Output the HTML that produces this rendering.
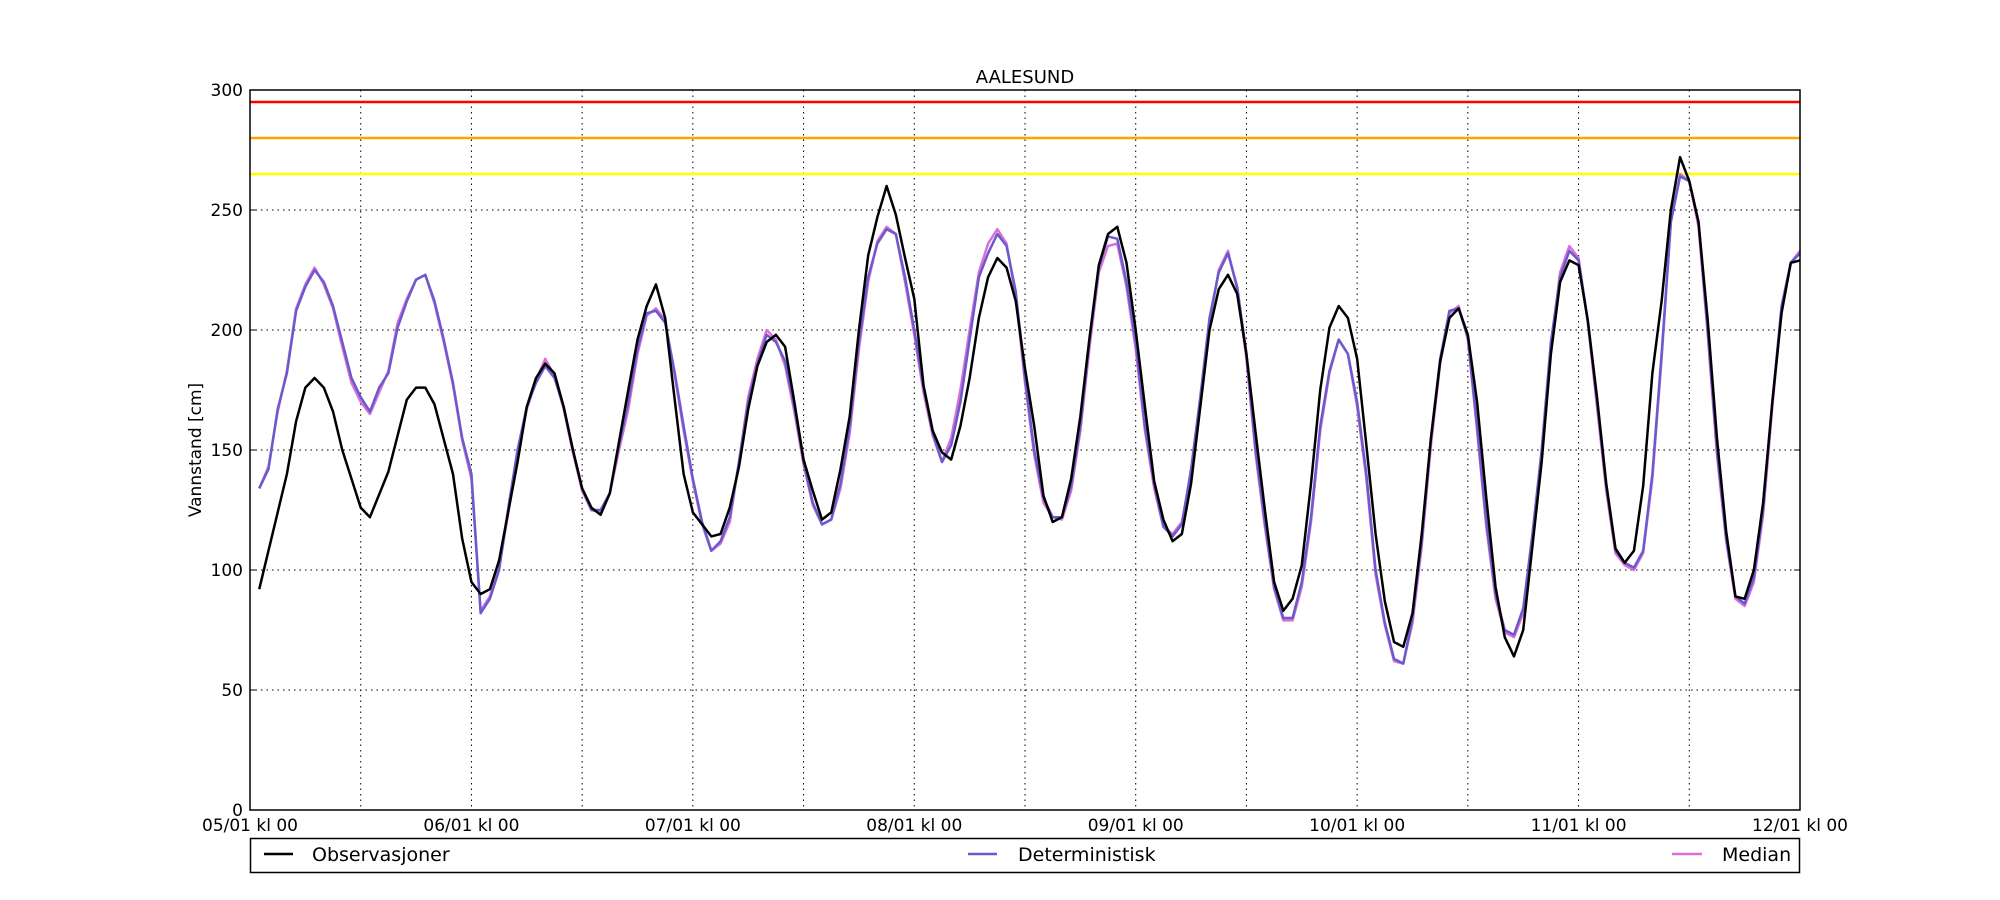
<!DOCTYPE html>
<html><head><meta charset="utf-8"><style>
body{margin:0;background:#fff;}
svg{display:block;font-family:"DejaVu Sans","Liberation Sans",sans-serif;}
</style></head><body>
<svg id="chart" width="2000" height="900" viewBox="0 0 2000 900" xmlns="http://www.w3.org/2000/svg">
<rect width="2000" height="900" fill="#fff"/>
<text x="1025" y="83" font-size="18" text-anchor="middle">AALESUND</text>
<text x="0" y="0" font-size="17" text-anchor="middle" transform="translate(201,450) rotate(-90)">Vannstand [cm]</text>
<g id="grid"></g><g id="levels"></g><g id="series"></g><g id="axes"></g>
<g>
<rect x="250.5" y="838.5" width="1549" height="34" fill="#fff" stroke="#000" stroke-width="1.5"/>
<line x1="264" y1="854" x2="293" y2="854" stroke="#000" stroke-width="2.5"/>
<text x="312" y="861" font-size="19">Observasjoner</text>
<line x1="968" y1="854" x2="997" y2="854" stroke="#6a5acd" stroke-width="2.5"/>
<text x="1018" y="861" font-size="19">Deterministisk</text>
<line x1="1672" y1="854" x2="1702" y2="854" stroke="#da70d6" stroke-width="2.5"/>
<text x="1722" y="861" font-size="19">Median</text>
</g>
</svg>
<script>
const yTicks=[0,50,100,150,200,250,300];
const dayLabels=["05/01 kl 00","06/01 kl 00","07/01 kl 00","08/01 kl 00","09/01 kl 00","10/01 kl 00","11/01 kl 00","12/01 kl 00"];
const levelValues=[295,280,265];
const levelColors=["#ff0000","#ffa500","#ffff00"];
const obsHours=[1,4,5,6,7,8,9,10,12,13,15,17,18,19,20,22,23,24,25,26,27,29,30,31,32,33,34,35,36,37,38,39,41,42,43,44,45,46,47,48,50,51,52,53,54,55,56,57,58,59,60,61,62,63,64,65,66,67,68,69,70,71,72,73,74,75,76,77,78,79,80,81,82,83,84,85,86,87,88,89,90,91,92,93,94,95,96,97,98,99,100,101,102,103,104,105,106,107,108,109,110,111,112,113,114,115,116,117,118,119,120,121,122,123,124,125,126,127,128,129,130,131,132,133,134,135,136,137,138,139,140,141,142,143,144,145,146,147,148,149,150,151,152,153,154,155,156,157,158,159,160,161,162,163,164,165,166,167,168];
const obsValues=[92,140,162,176,180,176,166,150,126,122,141,171,176,176,169,140,113,95,90,92,104,145,168,180,186,182,168,150,134,126,123,132,175,196,210,219,205,172,140,124,114,115,126,143,167,185,195,198,193,170,146,133,121,124,142,164,200,231,247,260,248,230,213,177,158,149,146,160,180,205,222,230,226,212,184,160,131,120,122,138,164,197,227,240,243,228,200,168,137,121,112,115,136,168,200,217,223,215,190,157,125,95,83,88,102,136,175,201,210,205,188,152,115,87,70,68,82,115,155,187,205,209,198,170,130,93,72,64,75,110,145,190,220,229,227,204,172,136,109,103,108,135,182,212,250,272,262,245,204,155,116,89,88,100,128,170,207,228,229];
const detHours=[];for(let h=1;h<=168;h++)detHours.push(h);
const detValues=[134,142,167,182,208,218,225,220,210,195,180,172,166,176,182,201,212,221,223,212,196,178,155,140,82,88,100,126,150,168,178,185,180,168,150,134,125,125,132,152,170,192,207,208,203,183,160,138,120,108,112,122,145,170,186,198,195,187,168,145,128,119,121,136,160,195,222,236,242,240,222,200,176,157,145,152,170,196,222,232,240,235,216,180,150,130,122,122,135,160,196,226,239,238,220,195,160,136,118,114,119,142,172,205,224,232,218,190,150,120,93,80,80,95,122,160,183,196,190,170,140,100,78,63,61,80,112,155,188,208,209,197,160,120,90,75,73,84,115,150,195,222,233,229,204,170,135,108,103,101,108,140,190,245,264,262,245,200,150,113,89,86,97,125,170,210,228,232];
const medValues=[134,143,166,183,209,219,226,219,209,193,178,170,165,174,183,203,213,221,223,211,195,177,154,138,83,89,101,124,148,167,179,188,181,167,149,133,125,124,132,150,167,190,206,209,204,182,158,137,119,108,111,120,145,172,188,200,196,185,166,144,127,119,121,134,157,192,220,237,243,240,220,198,174,156,145,155,175,200,224,236,242,236,214,178,148,128,122,121,133,158,193,224,235,236,218,192,158,134,118,115,120,140,170,203,225,233,217,188,148,118,92,79,79,93,120,158,182,196,190,168,138,98,77,62,61,78,110,152,186,207,210,196,158,118,88,74,72,82,112,148,193,224,235,230,203,168,133,107,102,100,107,138,188,245,265,262,243,198,148,112,88,85,95,123,168,208,228,233];
const L=250,R=1800,T=90,B=810,NS="http://www.w3.org/2000/svg";
const xS=h=>L+(R-L)*h/168;
const yS=v=>B-(B-T)*v/300;
function mk(tag,attrs,parent){const e=document.createElementNS(NS,tag);for(const k in attrs)e.setAttribute(k,attrs[k]);parent.appendChild(e);return e;}
const grid=document.getElementById('grid'),axes=document.getElementById('axes'),lev=document.getElementById('levels'),ser=document.getElementById('series');
yTicks.forEach(v=>{
 if(v>0&&v<300){const g=mk('line',{x1:L,x2:R,y1:yS(v),y2:yS(v),stroke:'#000','stroke-width':1,'stroke-dasharray':'1.5,4'},grid);
 
 }
 const t=mk('text',{x:L-7,y:yS(v)+6,'font-size':17,'text-anchor':'end'},axes);t.textContent=v;
 
 
 mk('line',{x1:L,x2:L+6,y1:yS(v),y2:yS(v),stroke:'#000'},axes);
 mk('line',{x1:R,x2:R-6,y1:yS(v),y2:yS(v),stroke:'#000'},axes);
});
for(let h=12;h<168;h+=12){const g=mk('line',{x1:xS(h),x2:xS(h),y1:T,y2:B,stroke:'#000','stroke-width':1,'stroke-dasharray':'1.5,4'},grid);
 
 }
dayLabels.forEach((d,i)=>{const t=mk('text',{x:xS(i*24),y:831,'font-size':17,'text-anchor':'middle'},axes);t.textContent=d;
 
 });
levelValues.forEach((v,i)=>{const l=mk('line',{x1:xS(0),x2:R,y1:yS(v),y2:yS(v),stroke:levelColors[i],'stroke-width':2.5},lev);
 
 });
function line(hs,vs,color,name){const p=mk('polyline',{points:hs.map((h,i)=>xS(h)+','+yS(vs[i])).join(' '),fill:'none',stroke:color,'stroke-width':2.5,'stroke-linejoin':'round'},ser);
 
 }
line(detHours,medValues,'#da70d6','median-line');
line(detHours,detValues,'#6a5acd','deterministisk-line');
line(obsHours,obsValues,'#000','observasjoner-line');
const fr=mk('rect',{x:L,y:T,width:R-L,height:B-T,fill:'none',stroke:'#000','stroke-width':1.5},axes);


</script>
</body></html>
